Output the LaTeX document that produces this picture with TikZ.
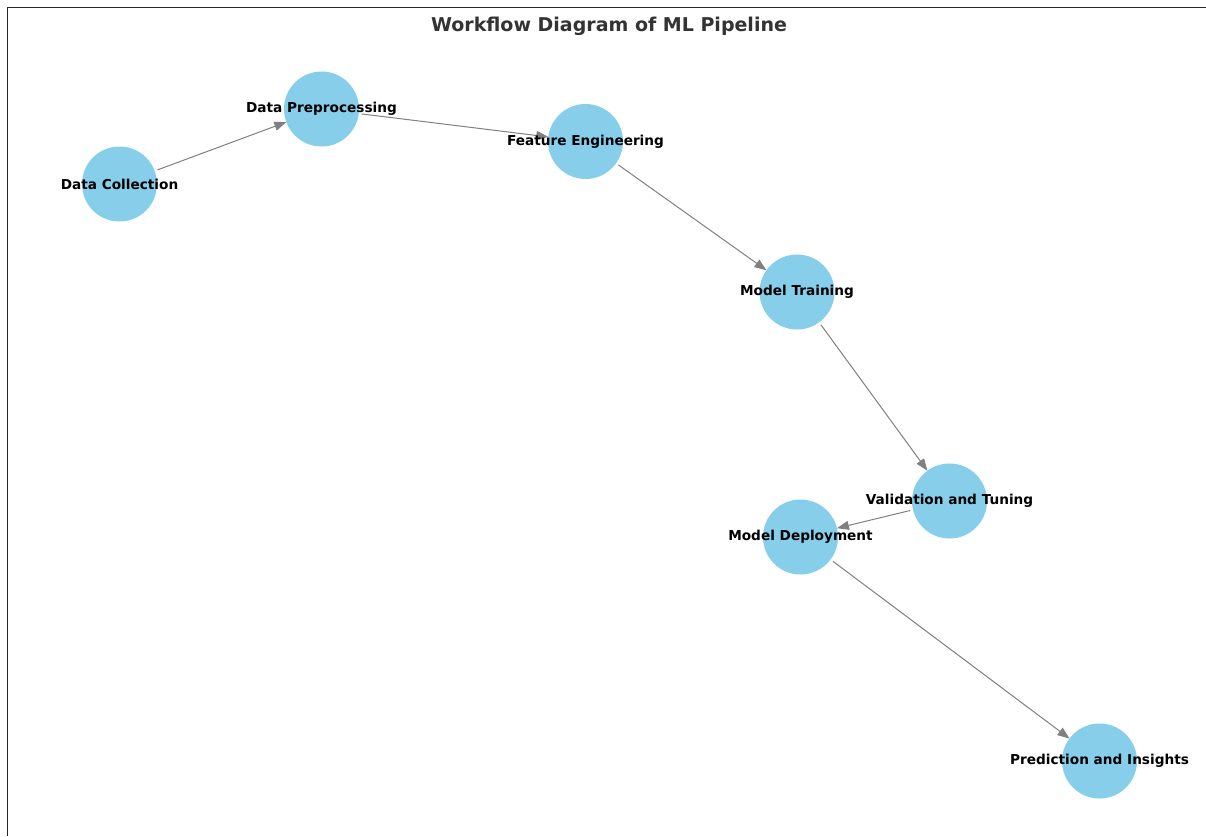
\documentclass[tikz,border=0pt]{standalone}
\usepackage{fontspec}
\setmainfont{DejaVu Sans}
\usetikzlibrary{arrows.meta}
\definecolor{skyb}{HTML}{87CEEB}
\definecolor{titlegray}{HTML}{333333}
\tikzset{
  stage/.style={circle, fill=skyb, minimum size=75pt, inner sep=0pt, outer sep=0pt},
  lbl/.style={font=\bfseries\fontsize{13.65}{15}\selectfont, text=black, inner sep=0pt},
  flow/.style={draw=gray, line width=1pt, -{Triangle[length=12pt,width=9pt]}, shorten <=3pt},
}
\begin{document}
\begin{tikzpicture}[x=1pt,y=-1pt]
\useasboundingbox (0,0) rectangle (1206,836);
\fill[white] (0,0) rectangle (1206,836);
\draw[line width=1.2pt, black!85] (7.5,836) -- (7.5,7.5) -- (1206,7.5);
\node[font=\bfseries\fontsize{19}{22}\selectfont, text=titlegray] (title) at (609,26) {Workflow Diagram of ML Pipeline};

\node[stage] (dc) at (119.5,184) {};
\node[stage] (dp) at (321.5,109) {};
\node[stage] (fe) at (585.5,141.5) {};
\node[stage] (mt) at (797,292) {};
\node[stage] (vt) at (949.5,501) {};
\node[stage] (md) at (800.5,537) {};
\node[stage] (pi) at (1099.5,761) {};

\draw[flow] (dc) -- (dp);
\draw[flow] (dp) -- (fe);
\draw[flow] (fe) -- (mt);
\draw[flow] (mt) -- (vt);
\draw[flow] (vt) -- (md);
\draw[flow] (md) -- (pi);

\node[lbl] at (dc) {Data Collection};
\node[lbl] at (dp) {Data Preprocessing};
\node[lbl] at (fe) {Feature Engineering};
\node[lbl] at (mt) {Model Training};
\node[lbl] at (vt) {Validation and Tuning};
\node[lbl] at (md) {Model Deployment};
\node[lbl] at (pi) {Prediction and Insights};
\end{tikzpicture}
\end{document}
